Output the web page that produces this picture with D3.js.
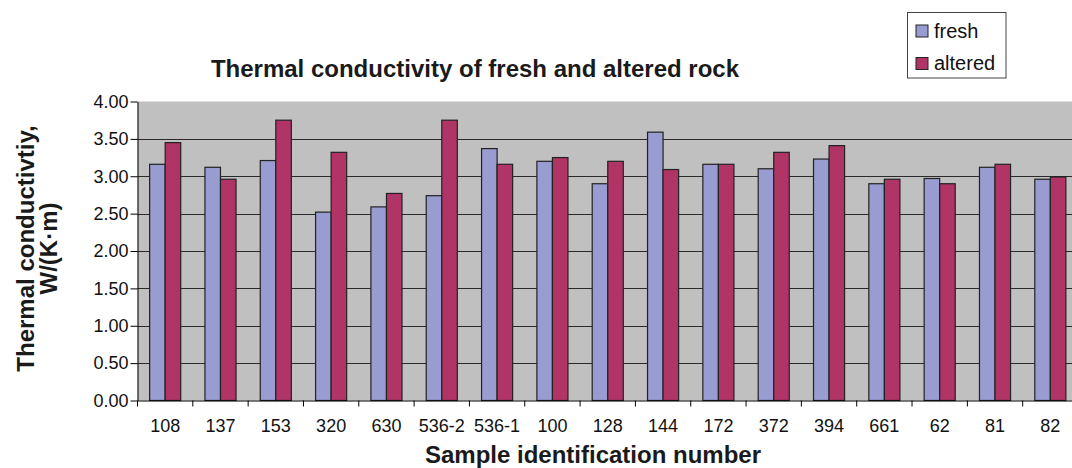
<!DOCTYPE html>
<html><head><meta charset="utf-8">
<script src="https://cdn.jsdelivr.net/npm/d3@7"></script>
<style>body{margin:0;background:#fff}svg{display:block}text{font-family:"Liberation Sans",Arial,sans-serif}</style>
</head><body><svg id="c" width="1072" height="468"></svg>
<script>
const categories = ["108","137","153","320","630","536-2","536-1","100","128","144","172","372","394","661","62","81","82"];
const fresh   = [3.16,3.12,3.21,2.52,2.59,2.74,3.37,3.20,2.90,3.59,3.16,3.10,3.23,2.90,2.97,3.12,2.96];
const altered = [3.45,2.96,3.75,3.32,2.77,3.75,3.16,3.25,3.20,3.09,3.16,3.32,3.41,2.96,2.90,3.16,2.99];
const seriesNames = ["fresh","altered"];
const yTicks = [0,0.5,1,1.5,2,2.5,3,3.5,4];

const colors = {fresh:"#999cd0", altered:"#b03466"};
const FF = "Liberation Sans, Arial, sans-serif";
const svg = d3.select("#c");
const L = 137.5, R = 1078, T = 101.5, B = 400.5;

const x = d3.scaleBand().domain(categories).range([L, R]);
const x1 = d3.scaleBand().domain(seriesNames).range([0, x.bandwidth()]).paddingInner(0).paddingOuter(0.78);
const y = d3.scaleLinear().domain([0,4]).range([B, T]);

svg.append("rect").attr("x",L).attr("y",T).attr("width",R-L).attr("height",B-T).attr("fill","#c0c0c0");

// gridlines
svg.append("g").selectAll("line").data(yTicks.filter(d=>d>0 && d<4)).join("line")
  .attr("x1",L).attr("x2",R).attr("y1",d=>Math.round(y(d))+0.5).attr("y2",d=>Math.round(y(d))+0.5)
  .attr("stroke","#2a2a2a").attr("stroke-width",1);

// bars
const data = categories.map((c,i)=>({c, vals:[{k:"fresh",v:fresh[i]},{k:"altered",v:altered[i]}]}));
const g = svg.append("g").selectAll("g").data(data).join("g").attr("transform",d=>`translate(${x(d.c)},0)`);
g.selectAll("rect").data(d=>d.vals).join("rect")
  .attr("x",d=>x1(d.k)).attr("width",x1.bandwidth())
  .attr("y",d=>y(d.v)).attr("height",d=>B-y(d.v))
  .attr("fill",d=>colors[d.k]).attr("stroke","#222").attr("stroke-width",1.2);

// y axis
const ya = svg.append("g").attr("transform",`translate(${L},0)`)
  .call(d3.axisLeft(y).tickValues(yTicks).tickFormat(d3.format(".2f")).tickSize(7).tickSizeOuter(0));
ya.select(".domain").attr("stroke","#000");
ya.selectAll(".tick line").attr("stroke","#000");
ya.selectAll("text").attr("font-size",18).attr("fill","#111").attr("x",-9).attr("font-family",FF);

// x axis
const xa = svg.append("g").attr("transform",`translate(0,${B})`)
  .call(d3.axisBottom(x).tickSize(0).tickSizeOuter(0));
xa.select(".domain").attr("stroke","#000");
xa.selectAll("text").attr("font-size",18).attr("fill","#111").attr("y",0).attr("dy",0)
  .attr("transform","translate(0,31)").attr("font-family",FF);
// category boundary ticks
svg.append("g").selectAll("line").data(categories).join("line")
  .attr("x1",d=>x(d)).attr("x2",d=>x(d)).attr("y1",B).attr("y2",B+6).attr("stroke","#000");

// titles
svg.append("text").attr("x",475).attr("y",77).attr("text-anchor","middle")
  .attr("font-size",24).attr("font-weight","bold").attr("fill","#1a1a1a")
  .text("Thermal conductivity of fresh and altered rock");
svg.append("text").attr("x",593).attr("y",463).attr("text-anchor","middle")
  .attr("font-size",24).attr("font-weight","bold").attr("fill","#1a1a1a")
  .text("Sample identification number");
const yt = svg.append("text").attr("transform","translate(0,248.5) rotate(-90)").attr("text-anchor","middle")
  .attr("font-size",24).attr("font-weight","bold").attr("fill","#1a1a1a");
yt.append("tspan").attr("x",0).attr("y",33.5).text("Thermal conductivtiy,");
yt.append("tspan").attr("x",0).attr("y",56.5).text("W/(K·m)");

// legend
const lg = svg.append("g");
lg.append("rect").attr("x",907.5).attr("y",12.5).attr("width",98.5).attr("height",65.5).attr("fill","#fff").attr("stroke","#444");
seriesNames.forEach((s,i)=>{
  const yy = 25 + i*32.5;
  lg.append("rect").attr("x",916).attr("y",yy).attr("width",12).attr("height",12).attr("fill",colors[s]).attr("stroke","#222");
  lg.append("text").attr("x",934).attr("y",yy+12.5).attr("font-size",20).attr("fill","#111").text(s);
});
</script></body></html>
